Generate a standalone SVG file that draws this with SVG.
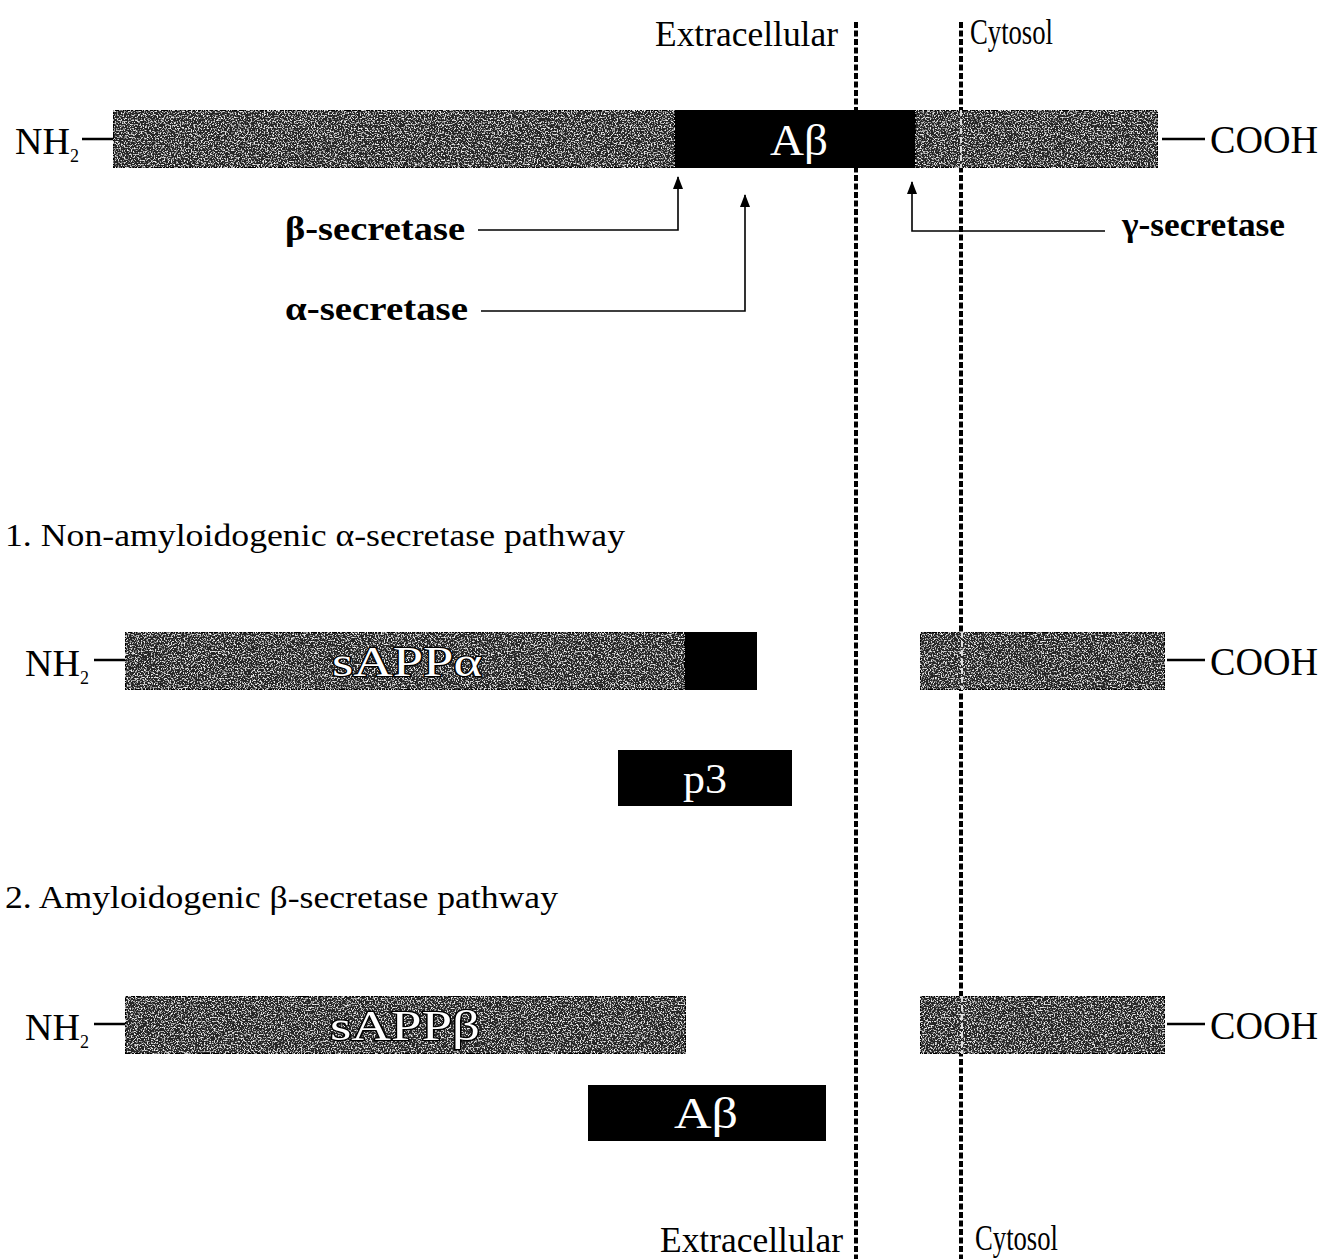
<svg xmlns="http://www.w3.org/2000/svg" width="1329" height="1259" viewBox="0 0 1329 1259">
<style>
.t{font-family:"Liberation Serif","Times New Roman",serif;fill:#000}
.b{font-weight:bold}
.w{fill:#fff}
.o{stroke:#000;stroke-width:2.5;paint-order:stroke;stroke-linejoin:round}
.gray{fill:#262626;stroke:#000;stroke-width:2;filter:url(#grain)}
.blk{fill:#000}
.dash{stroke:#000;stroke-width:4;stroke-dasharray:6 2.5;fill:none}
.conn{stroke:#000;stroke-width:1.6;fill:none}
.tick{stroke:#000;stroke-width:2.5}
.sub{font-size:18px}
</style>
<defs>
<filter id="grain" x="0" y="0" width="100%" height="100%">
<feTurbulence type="fractalNoise" baseFrequency="0.7" numOctaves="2" seed="7" result="n"/>
<feColorMatrix in="n" type="matrix" values="0 0 0 0 0.85 0 0 0 0 0.85 0 0 0 0 0.85 5 0 0 0 -2.55" result="speck"/>
<feComposite in="speck" in2="SourceGraphic" operator="atop" result="sp"/>
<feMerge><feMergeNode in="SourceGraphic"/><feMergeNode in="sp"/></feMerge>
</filter>
<marker id="ah" viewBox="0 0 13 10" refX="12" refY="5" markerWidth="13" markerHeight="10" orient="auto" markerUnits="userSpaceOnUse">
<path d="M0,0 L13,5 L0,10 Z" fill="#000"/>
</marker>
</defs>

<g id="membrane">
<line class="dash" x1="856" y1="22" x2="856" y2="1259"/>
<line class="dash" x1="961" y1="22" x2="961" y2="1259"/>
<text class="t" x="655" y="46" font-size="36" textLength="183" lengthAdjust="spacingAndGlyphs">Extracellular</text>
<text class="t" x="970" y="44" font-size="36" textLength="83" lengthAdjust="spacingAndGlyphs">Cytosol</text>
<text class="t" x="660" y="1252" font-size="36" textLength="183" lengthAdjust="spacingAndGlyphs">Extracellular</text>
<text class="t" x="975" y="1250" font-size="36" textLength="83" lengthAdjust="spacingAndGlyphs">Cytosol</text>
</g>

<g id="app">
<rect class="gray" x="113" y="110" width="562" height="58"/>
<rect class="blk" x="675" y="110" width="240" height="58"/>
<rect class="gray" x="915" y="110" width="243" height="58"/>
<line x1="961" y1="110" x2="961" y2="168" stroke="#ddd" stroke-width="2" stroke-dasharray="6 3"/>
<text class="t w" x="799" y="155" font-size="44" text-anchor="middle" textLength="58" lengthAdjust="spacingAndGlyphs">Aβ</text>
<line class="tick" x1="82" y1="139" x2="113" y2="139"/>
<text class="t" x="15" y="154" font-size="38">NH<tspan class="sub" dy="8">2</tspan></text>
<line class="tick" x1="1162" y1="139" x2="1205" y2="139"/>
<text class="t" x="1210" y="153" font-size="40" textLength="108" lengthAdjust="spacingAndGlyphs">COOH</text>
</g>

<g id="connectors">
<polyline class="conn" points="478,230 678,230 678,177" marker-end="url(#ah)"/>
<polyline class="conn" points="481,311 745,311 745,195" marker-end="url(#ah)"/>
<polyline class="conn" points="1105,231 912,231 912,182" marker-end="url(#ah)"/>
</g>

<g id="beta-secretase">
<text class="t b" x="285" y="240" font-size="34" textLength="180" lengthAdjust="spacingAndGlyphs">β-secretase</text>
</g>
<g id="alpha-secretase">
<text class="t b" x="285" y="320" font-size="34" textLength="183" lengthAdjust="spacingAndGlyphs">α-secretase</text>
</g>
<g id="gamma-secretase">
<text class="t b" x="1122" y="236" font-size="34" textLength="163" lengthAdjust="spacingAndGlyphs">γ-secretase</text>
</g>

<g id="heading1">
<text class="t" x="5" y="546" font-size="31" textLength="620" lengthAdjust="spacingAndGlyphs">1. Non-amyloidogenic α-secretase pathway</text>
</g>

<g id="sAPPalpha">
<rect class="gray" x="125" y="632" width="560" height="58"/>
<rect class="blk" x="685" y="632" width="72" height="58"/>
<text class="t w o" x="332" y="676" font-size="42" textLength="150" lengthAdjust="spacingAndGlyphs">sAPPα</text>
<line class="tick" x1="94" y1="660" x2="125" y2="660"/>
<text class="t" x="25" y="676" font-size="38">NH<tspan class="sub" dy="8">2</tspan></text>
</g>
<g id="CTFalpha">
<rect class="gray" x="920" y="632" width="245" height="58"/>
<line x1="962" y1="632" x2="962" y2="690" stroke="#ddd" stroke-width="2" stroke-dasharray="6 3"/>
<line class="tick" x1="1167" y1="660" x2="1205" y2="660"/>
<text class="t" x="1210" y="675" font-size="40" textLength="108" lengthAdjust="spacingAndGlyphs">COOH</text>
</g>
<g id="p3">
<rect class="blk" x="618" y="750" width="174" height="56"/>
<text class="t w" x="705" y="793" font-size="42" text-anchor="middle" textLength="44" lengthAdjust="spacingAndGlyphs">p3</text>
</g>

<g id="heading2">
<text class="t" x="5" y="908" font-size="31" textLength="553" lengthAdjust="spacingAndGlyphs">2. Amyloidogenic β-secretase pathway</text>
</g>

<g id="sAPPbeta">
<rect class="gray" x="125" y="996" width="561" height="58"/>
<text class="t w o" x="330" y="1040" font-size="42" textLength="150" lengthAdjust="spacingAndGlyphs">sAPPβ</text>
<line class="tick" x1="94" y1="1024" x2="125" y2="1024"/>
<text class="t" x="25" y="1040" font-size="38">NH<tspan class="sub" dy="8">2</tspan></text>
</g>
<g id="CTFbeta">
<rect class="gray" x="920" y="996" width="245" height="58"/>
<line x1="962" y1="996" x2="962" y2="1054" stroke="#ddd" stroke-width="2" stroke-dasharray="6 3"/>
<line class="tick" x1="1167" y1="1024" x2="1205" y2="1024"/>
<text class="t" x="1210" y="1039" font-size="40" textLength="108" lengthAdjust="spacingAndGlyphs">COOH</text>
</g>
<g id="Abeta">
<rect class="blk" x="588" y="1085" width="238" height="56"/>
<text class="t w" x="706" y="1128" font-size="44" text-anchor="middle" textLength="64" lengthAdjust="spacingAndGlyphs">Aβ</text>
</g>
</svg>
